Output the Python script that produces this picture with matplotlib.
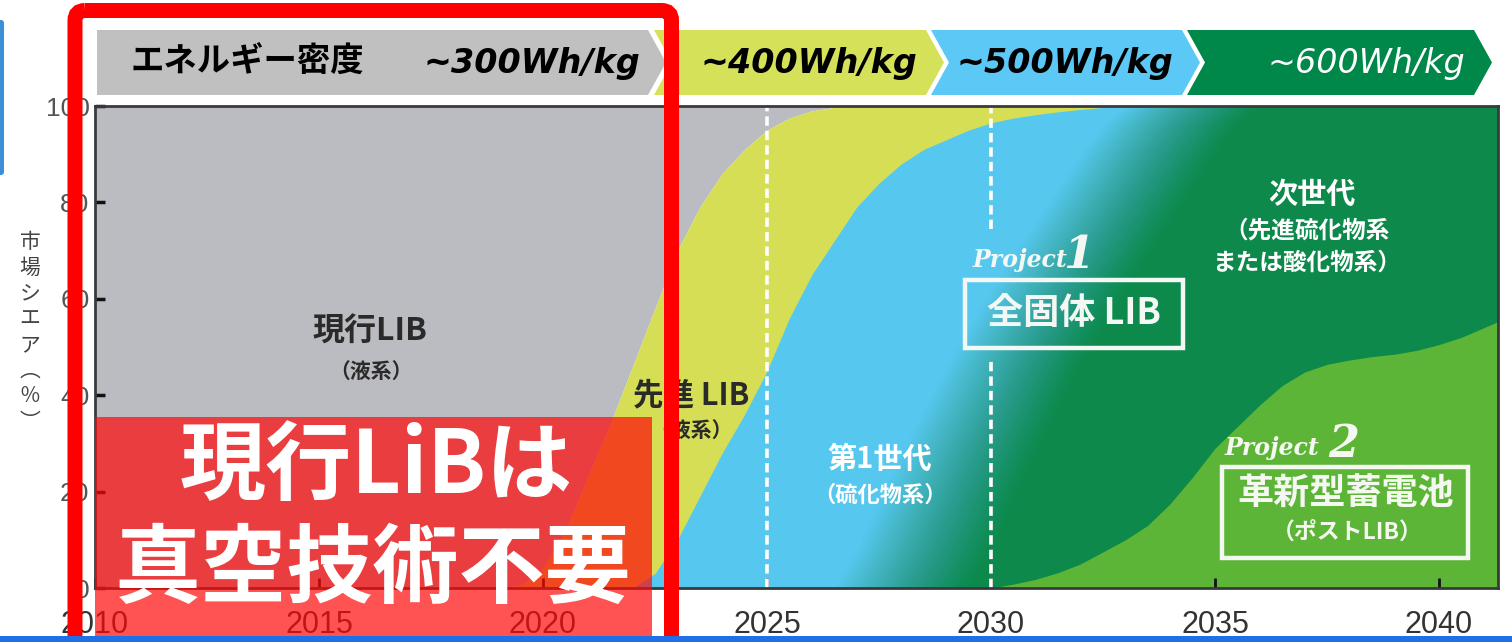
import matplotlib
matplotlib.use("Agg")
import matplotlib.pyplot as plt
from matplotlib.patches import Polygon, Rectangle, FancyBboxPatch
from matplotlib.transforms import Affine2D

# ---------------- data: market share (%) by year ----------------
# Each series is the cumulative share of a technology plus everything newer.
years_adv = [2010, 2019.0, 2019.5, 2020.0, 2020.5, 2021.0, 2021.5, 2022.0, 2022.5,
             2023.0, 2023.5, 2024.0, 2024.5, 2025.0, 2025.5, 2026.0, 2026.5, 2027.0, 2041.5]
share_adv_up = [0, 0, 0.5, 4, 12, 23, 34, 46, 58,
                70, 79, 86, 91, 95, 97.5, 99, 99.7, 100, 100]

years_gen1 = [2010, 2022.0, 2022.5, 2023.0, 2023.5, 2024.0, 2024.5, 2025.0, 2025.5,
              2026.0, 2026.5, 2027.0, 2027.5, 2028.0, 2028.5, 2029.0, 2029.5, 2030.0,
              2030.5, 2031.0, 2031.5, 2032.0, 2032.5, 2033.0, 2041.5]
share_gen1_up = [0, 0, 3, 10, 19, 28, 36, 45, 56,
                 65, 72, 79, 84, 88, 91, 93, 95, 96.5,
                 97.5, 98.2, 98.8, 99.3, 99.7, 100, 100]

years_next = [2010, 2028.0, 2028.5, 2029.0, 2029.5, 2030.0, 2030.5, 2031.0, 2031.5,
              2032.0, 2032.5, 2033.0, 2033.5, 2034.0, 2034.5, 2041.5]
share_next_up = [0, 0, 8, 18, 28, 37, 46, 54, 62,
                 69, 76, 83, 90, 96, 100, 100]

years_post = [2010, 2030.0, 2030.5, 2031.0, 2031.5, 2032.0, 2032.5, 2033.0, 2033.5,
              2034.0, 2034.5, 2035.0, 2035.5, 2036.0, 2036.5, 2037.0, 2037.5, 2038.0,
              2038.5, 2039.0, 2039.5, 2040.0, 2040.5, 2041.0, 2041.5]
share_post = [0, 0, 0.8, 1.8, 3.2, 5, 7.5, 10, 13,
              17.5, 23, 29, 33.5, 38, 42, 44.8, 46.4, 47.3,
              48, 48.5, 49.3, 50.5, 52, 54, 56]

x_ticks = [2010, 2015, 2020, 2025, 2030, 2035, 2040]
y_ticks = [0, 20, 40, 60, 80, 100]
milestone_years = [2025, 2030]
density_title = "エネルギー密度"
density_labels = ["~300Wh/kg", "~400Wh/kg", "~500Wh/kg", "~600Wh/kg"]

# ---------------- style ----------------
JP = ["Noto Sans CJK JP", "DejaVu Sans"]
C_GRAY = "#bbbcc1"
C_YELLOW = "#d5de55"
C_BLUE = "#56c8f0"
C_DGREEN = "#0d8a4b"
C_LGREEN = "#5cb536"

W, H = 1512, 642
fig = plt.figure(figsize=(W / 100, H / 100), dpi=100)
fig.patch.set_facecolor("white")
px = Affine2D().scale(1 / W, -1 / H).translate(0, 1) + fig.transFigure

ax = fig.add_axes([95 / W, (H - 588) / H, (1498 - 95) / W, (588 - 106) / H])
ax.set_xlim(2010, 2010 + (1498 - 95) / 44.8)
ax.set_ylim(0, 100)

# ---------------- stacked areas ----------------
ax.fill_between(years_adv, share_adv_up, 100, color=C_GRAY, lw=0, zorder=1)
ax.fill_between(years_adv, 0, share_adv_up, color=C_YELLOW, lw=0, zorder=1)
ax.fill_between(years_gen1, 0, share_gen1_up, color=C_BLUE, lw=0, zorder=1)

# next generation: soft horizontal edge into the first-generation band
n_layers = 40
spread = 1.5
for m in range(1, n_layers + 1):
    s = spread - 2 * spread * (m - 1) / (n_layers - 1)
    ax.fill_between([y - s for y in years_next], 0, share_next_up,
                    color=C_DGREEN, lw=0, alpha=1.0 / (n_layers - m + 1), zorder=1)

ax.fill_between(years_post, 0, share_post, color=C_LGREEN, lw=0, zorder=1)

# milestone dashed lines (2030 line broken around the Project 1 box)
ax.plot([milestone_years[0]] * 2, [0, 100], color="white", lw=2.6,
        dashes=(2.6, 1.4), zorder=2)
ax.plot([milestone_years[1]] * 2, [74.5, 100], color="white", lw=2.6,
        dashes=(2.6, 1.4), zorder=2)
ax.plot([milestone_years[1]] * 2, [0, 47.3], color="white", lw=2.6,
        dashes=(2.6, 1.4), zorder=2)

# ---------------- axes ----------------
ax.set_xticks(x_ticks)
ax.set_xticklabels([str(v) for v in x_ticks], family="Liberation Sans")
ax.set_yticks(y_ticks)
ax.set_yticklabels([str(v) for v in y_ticks], family="Liberation Sans")
ax.tick_params(axis="x", direction="in", length=7, width=2, pad=16,
               labelsize=22, labelcolor="#333333", color="#111111")
ax.tick_params(axis="y", direction="in", length=7, width=2.5, pad=4,
               labelsize=19, labelcolor="#555555", color="#111111")
for sp in ax.spines.values():
    sp.set_color("#3a3a3a")
    sp.set_linewidth(2)

fig.text(30 / W, 1 - 332 / H, "市\n場\nシ\nエ\nア\n︵\n％\n︶", family=JP,
         fontsize=15, color="#444444", ha="center", va="center",
         linespacing=1.22)

# ---------------- area labels ----------------
dark = "#2a2a2a"
ax.text(2016.14, 53.1, "現行LIB", family=JP, fontsize=23, weight="bold",
        color=dark, ha="center", va="center", zorder=4)
ax.text(2016.16, 45.0, "（液系）", family=JP, fontsize=15, weight="bold",
        color=dark, ha="center", va="center", zorder=4)
ax.text(2023.30, 40.0, "先進 LIB", family=JP, fontsize=22, weight="bold",
        color=dark, ha="center", va="center", zorder=4)
ax.text(2023.30, 32.6, "（液系）", family=JP, fontsize=15, weight="bold",
        color=dark, ha="center", va="center", zorder=4)
ax.text(2027.52, 26.8, "第1世代", family=JP, fontsize=21, weight="bold",
        color="white", ha="center", va="center", zorder=4)
ax.text(2027.52, 19.3, "（硫化物系）", family=JP, fontsize=16, weight="bold",
        color="white", ha="center", va="center", zorder=4)
ax.text(2037.17, 81.7, "次世代", family=JP, fontsize=21, weight="bold",
        color="white", ha="center", va="center", zorder=4)
ax.text(2037.05, 74.1, "（先進硫化物系", family=JP, fontsize=17, weight="bold",
        color="white", ha="center", va="center", zorder=4)
ax.text(2037.05, 67.4, "または酸化物系）", family=JP, fontsize=17, weight="bold",
        color="white", ha="center", va="center", zorder=4)

# Project 1
ax.text(2029.58, 66.6, "Project", family="DejaVu Serif", style="italic",
        weight="bold", fontsize=17, color="#f4f8f4", ha="left",
        va="baseline", zorder=4)
ax.text(2031.62, 66.4, "1", family="DejaVu Serif", style="italic",
        weight="bold", fontsize=32, color="#f4f8f4", ha="left",
        va="baseline", zorder=4)
ax.add_patch(Rectangle((2029.42, 49.8), 4.87, 14.1, fill=False,
                       ec="#f4f8f4", lw=3.2, zorder=4))
ax.text(2031.85, 57.0, "全固体 LIB", family=JP, fontsize=26, weight="bold",
        color="#f4f8f4", ha="center", va="center", zorder=4)

# Project 2
ax.text(2035.22, 27.6, "Project", family="DejaVu Serif", style="italic",
        weight="bold", fontsize=17, color="#f4f8f0", ha="left",
        va="baseline", zorder=4)
ax.text(2037.52, 27.2, "2", family="DejaVu Serif", style="italic",
        weight="bold", fontsize=32, color="#f4f8f0", ha="left",
        va="baseline", zorder=4)
ax.add_patch(Rectangle((2035.16, 6.2), 5.49, 18.9, fill=False,
                       ec="#f4f8f0", lw=3.2, zorder=4))
ax.text(2037.92, 19.5, "革新型蓄電池", family=JP, fontsize=26, weight="bold",
        color="#f4f8f0", ha="center", va="center", zorder=4)
ax.text(2037.95, 11.6, "（ポストLIB）", family=JP, fontsize=16.5, weight="bold",
        color="#f4f8f0", ha="center", va="center", zorder=4)

# ---------------- energy density header ----------------
seg_edges = [(97, 648), (654, 926), (931, 1182), (1187, 1474)]
seg_colors = ["#c0c0c0", "#d6e15a", "#5bc8f5", "#00874a"]
top, bot, mid, d = 30, 95, 62.5, 18
for i, ((x0, x1), col) in enumerate(zip(seg_edges, seg_colors)):
    pts = [(x0, top), (x1, top), (x1 + d, mid), (x1, bot), (x0, bot)]
    if i > 0:
        pts.append((x0 + d, mid))
    fig.add_artist(Polygon(pts, closed=True, transform=px, fc=col, ec="none",
                           zorder=2))

fig.text(131 / W, 1 - 62 / H, density_title, family=JP, fontsize=24,
         weight="bold", color="black", ha="left", va="center", zorder=3)
label_right = [640, 917, 1173, 1465]
for i, (lab, xr) in enumerate(zip(density_labels, label_right)):
    fig.text(xr / W, 1 - 63 / H, lab, family="DejaVu Sans", fontsize=24,
             style="italic", weight="normal" if i == 3 else "bold",
             color="white" if i == 3 else "black", ha="right", va="center",
             zorder=3)

# ---------------- highlight overlay ----------------
fig.add_artist(Rectangle((95, 417), 557, 230, transform=px,
                         fc=(1.0, 0.03, 0.03), ec="none", alpha=0.70, zorder=5))
fig.text(376 / W, 1 - 468 / H, "現行LiBは", family=JP, fontsize=62,
         weight="bold", color="white", ha="center", va="center", zorder=6)
fig.text(373 / W, 1 - 571 / H, "真空技術不要", family=JP, fontsize=62,
         weight="bold", color="white", ha="center", va="center", zorder=6)
fig.add_artist(FancyBboxPatch((75, 10.5), 596.5, 680,
                              boxstyle="round,pad=0,rounding_size=10",
                              transform=px, fc="none", ec="#ff0000", lw=10.8,
                              zorder=7))

# page accents
fig.add_artist(FancyBboxPatch((-4, 20), 8, 155,
                              boxstyle="round,pad=0,rounding_size=3",
                              transform=px, fc="#3b8fd6", ec="none", zorder=7))
fig.add_artist(Rectangle((0, 636), W, 8, transform=px, fc="#1f6fe6",
                         ec="none", zorder=8))

fig.savefig("out.png", dpi=100)
